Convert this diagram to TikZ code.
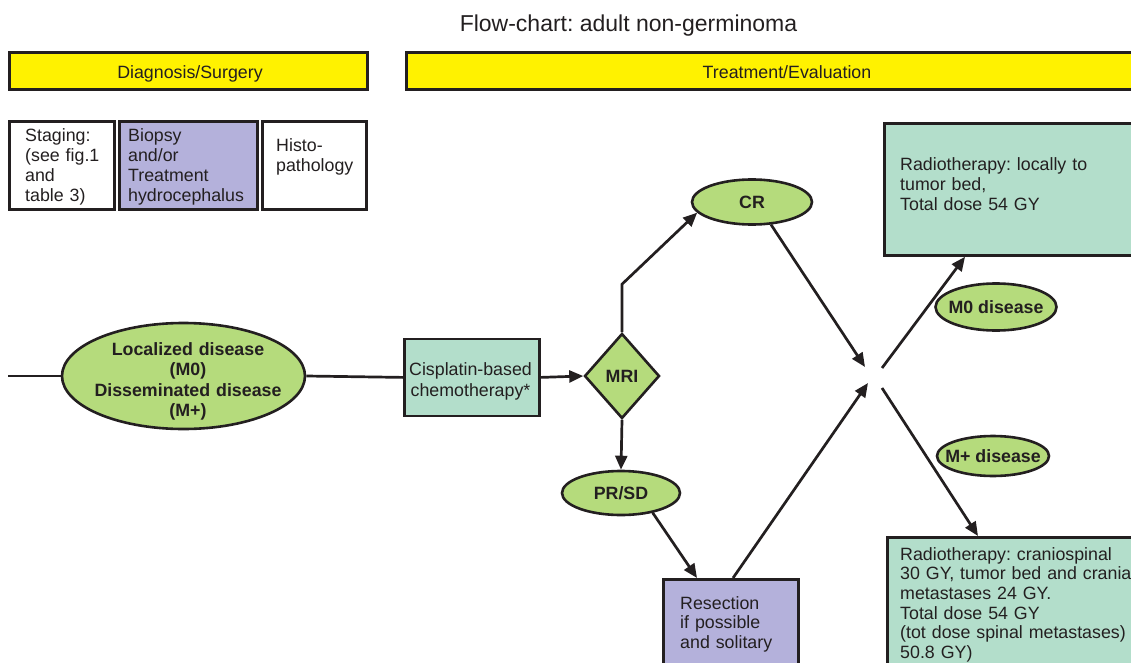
\documentclass[tikz,border=0pt]{standalone}
\usepackage{fontspec}
\setmainfont{Liberation Sans}
\usetikzlibrary{shapes.geometric,arrows.meta,calc}
\definecolor{ink}{HTML}{231F20}
\definecolor{barY}{HTML}{FFF200}
\definecolor{okgreen}{HTML}{B5DB7C}
\definecolor{tealbox}{HTML}{B3DECB}
\definecolor{lilac}{HTML}{B4B1DB}
\frenchspacing
\begin{document}
\begin{tikzpicture}[x=1pt,y=-1pt,
  every node/.style={inner sep=0pt, text=ink},
  fnt/.style={font=\fontsize{17.8}{19.7}\selectfont},
  bfnt/.style={font=\fontsize{17.8}{20.6}\selectfont\bfseries},
  box/.style={draw=ink, line width=2.8pt, rectangle, inner sep=0pt, anchor=north west},
  oval/.style={draw=ink, line width=2.6pt, ellipse, fill=okgreen, inner sep=0pt},
  conn/.style={draw=ink, line width=2.7pt},
  arr/.style={conn, -{Triangle[length=14pt,width=12pt]}},
  txt/.style={fnt, align=left, anchor=base west},
  ctxt/.style={bfnt, align=center, anchor=base},
]
\useasboundingbox (0,0) rectangle (1131,663);
\clip (0,0) rectangle (1131,663);

% title
\node[font=\fontsize{23}{26}\selectfont, anchor=base] (title) at (628.5,31.7) {Flow-chart: adult non-germinoma};

% header bars
\node[box, fill=barY, minimum width=358pt, minimum height=37pt] (bar1) at (8,51) {};
\node[fnt, anchor=base] (bar1t) at (190,79) {Diagnosis/Surgery};
\node[box, fill=barY, minimum width=770pt, minimum height=37pt] (bar2) at (405,51) {};
\node[fnt, anchor=base] (bar2t) at (787,79) {Treatment/Evaluation};

% diagnosis boxes
\node[box, fill=white, minimum width=105pt, minimum height=88pt] (staging) at (8,120) {};
\node[txt, text width=90pt] (stagingt) at (25,142) {Staging:\\(see fig.1\\and\\table 3)};
\node[box, fill=lilac, minimum width=138pt, minimum height=88pt] (biopsy) at (118,120) {};
\node[txt, text width=130pt] (biopsyt) at (128,142) {Biopsy\\and/or\\Treatment\\hydrocephalus};
\node[box, fill=white, minimum width=104pt, minimum height=88pt] (histo) at (261,120) {};
\node[txt, text width=95pt] (histot) at (276,152) {Histo-\\pathology};

% disease ellipse
\node[oval, minimum width=243pt, minimum height=106pt] (dis) at (183.5,376) {};
\node[ctxt, text width=200pt] (dist) at (188,355) {Localized disease\\(M0)\\Disseminated disease\\(M+)};
\coordinate (lstart) at (8,376);

% chemotherapy
\node[box, fill=tealbox, minimum width=135pt, minimum height=77pt] (cis) at (403,337.5) {};
\node[fnt, align=center, anchor=base, text width=135pt, font=\fontsize{17.8}{21.5}\selectfont] (cist) at (470.5,375) {Cisplatin-based\\chemotherapy*};

% MRI
\node[diamond, draw=ink, line width=2.6pt, fill=okgreen, minimum width=75pt, minimum height=85pt, inner sep=0pt] (mri) at (622,376) {};
\node[bfnt] (mrit) at (622,376) {MRI};

% CR and PR/SD
\node[oval, minimum width=120pt, minimum height=45pt] (cr) at (752,202) {};
\node[bfnt] (crt) at (752,202) {CR};
\node[oval, minimum width=118pt, minimum height=44pt] (prsd) at (621,493) {};
\node[bfnt] (prsdt) at (621,493) {PR/SD};

% Resection
\node[box, fill=lilac, minimum width=135pt, minimum height=110pt] (res) at (662,578) {};
\node[txt, text width=120pt] (rest) at (680,609) {Resection\\if possible\\and solitary};

% hub points
\coordinate (hubA) at (865,367);
\coordinate (hubB) at (868,383);
\coordinate (hubC) at (882,368);
\coordinate (hubD) at (882,388);

% radiotherapy boxes
\node[box, fill=tealbox, minimum width=270pt, minimum height=132pt] (rt1) at (883,122) {};
\node[txt, text width=240pt] (rt1t) at (900,171) {Radiotherapy: locally to\\tumor bed,\\Total dose 54 GY};
\node[box, fill=tealbox, minimum width=270pt, minimum height=150pt] (rt2) at (886,536) {};
\node[txt, text width=260pt] (rt2t) at (900,560) {Radiotherapy: craniospinal\\30 GY, tumor bed and crania\\metastases 24 GY.\\Total dose 54 GY\\(tot dose spinal metastases)\\50.8 GY)};

% M0 / M+ labels
\node[oval, minimum width=121pt, minimum height=47pt] (m0) at (996,307) {};
\node[bfnt] (m0t) at (996,307) {M0 disease};
\node[oval, minimum width=112pt, minimum height=40pt] (mp) at (993,456) {};
\node[bfnt] (mpt) at (993,456) {M+ disease};

% connectors
\draw[conn] (lstart) -- (dis.west);
\draw[conn] (dis.east) -- (cis.west);
\draw[arr] (cis.east) -- (mri.west);
\draw[arr] (mri.north) -- ++(0,-48) -- (cr.191);
\draw[arr] (cr.-50) -- (hubA);
\draw[arr] (mri.south) -- (prsd.north);
\draw[arr] (prsd.-32) -- ($(res.north west)+(35,0)$);
\draw[arr] ($(res.north west)+(71,0)$) -- (hubB);
\draw[arr] (hubC) -- ($(rt1.south west)+(82,0)$);
\draw[arr] (hubD) -- ($(rt2.north west)+(92,0)$);
\end{tikzpicture}
\end{document}
